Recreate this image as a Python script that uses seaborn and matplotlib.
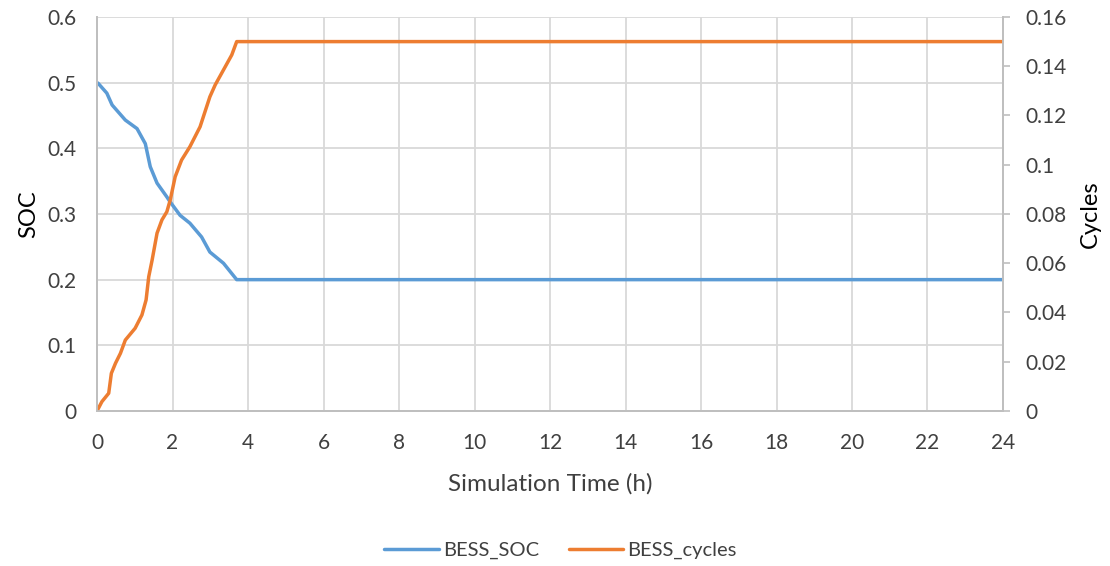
import matplotlib
matplotlib.use("Agg")
import matplotlib.pyplot as plt
import seaborn as sns
import pandas as pd

# BESS state of charge over the simulated day (hours, SOC)
soc_time = [0.0, 0.03, 0.26, 0.40, 0.75, 1.06, 1.28, 1.41, 1.59, 1.85, 1.93, 2.20, 2.46,
            2.77, 2.99, 3.35, 3.70, 24.0]
soc_value = [0.500, 0.499, 0.484, 0.466, 0.443, 0.430, 0.407, 0.372, 0.347, 0.326, 0.319,
             0.298, 0.286, 0.265, 0.242, 0.225, 0.200, 0.200]

# Accumulated BESS cycles over the simulated day
cyc_time = [0.0, 0.13, 0.31, 0.38, 0.49, 0.62, 0.75, 1.01, 1.19, 1.30, 1.37, 1.46, 1.59,
            1.72, 1.85, 1.94, 2.07, 2.24, 2.46, 2.73, 2.99, 3.13, 3.35, 3.57, 3.70, 24.0]
cyc_value = [0.0, 0.0038, 0.0072, 0.0153, 0.0194, 0.0234, 0.0288, 0.0336, 0.039, 0.0451,
             0.0545, 0.0613, 0.0722, 0.0776, 0.0809, 0.0857, 0.0951, 0.1019, 0.1073,
             0.1154, 0.1276, 0.1324, 0.1385, 0.1446, 0.150, 0.150]

x_ticks = list(range(0, 25, 2))
soc_ticks = [0, 0.1, 0.2, 0.3, 0.4, 0.5, 0.6]
soc_tick_labels = ["0", "0.1", "0.2", "0.3", "0.4", "0.5", "0.6"]
cyc_ticks = [0, 0.02, 0.04, 0.06, 0.08, 0.10, 0.12, 0.14, 0.16]
cyc_tick_labels = ["0", "0.02", "0.04", "0.06", "0.08", "0.1", "0.12", "0.14", "0.16"]

BLUE = "#5B9BD5"
ORANGE = "#ED7D31"
GRID = "#D9D9D9"
AXIS = "#BFBFBF"
TEXT = "#404040"

sns.set_style("white")
plt.rcParams["font.family"] = ["Lato", "DejaVu Sans"]

soc_df = pd.DataFrame({"time": soc_time, "soc": soc_value})
cyc_df = pd.DataFrame({"time": cyc_time, "cycles": cyc_value})

fig = plt.figure(figsize=(11.1, 5.66), dpi=100)
ax = fig.add_axes([0.0874, 0.2739, 0.8162, 0.6961])
ax2 = ax.twinx()

sns.lineplot(data=soc_df, x="time", y="soc", ax=ax, color=BLUE, linewidth=2.5,
             label="BESS_SOC", legend=False)
sns.lineplot(data=cyc_df, x="time", y="cycles", ax=ax2, color=ORANGE, linewidth=2.5,
             label="BESS_cycles", legend=False)

ax.set_xlim(0, 24)
ax.set_ylim(0, 0.6)
ax2.set_ylim(0, 0.16)
ax.set_xticks(x_ticks)
ax.set_yticks(soc_ticks)
ax.set_yticklabels(soc_tick_labels)
ax2.set_yticks(cyc_ticks)
ax2.set_yticklabels(cyc_tick_labels)

ax.grid(True, color=GRID, linewidth=1.3)
ax.set_axisbelow(True)
ax2.grid(False)

for a in (ax, ax2):
    a.spines["top"].set_visible(False)
    for side in ("left", "bottom", "right"):
        a.spines[side].set_color(AXIS)
        a.spines[side].set_linewidth(1.3)

ax.tick_params(axis="both", labelsize=15, colors=TEXT, length=0)
ax.tick_params(axis="x", pad=16)
ax.tick_params(axis="y", pad=15)
ax2.tick_params(axis="y", labelsize=15, colors=TEXT, length=5, width=1.2,
                color=AXIS, direction="out", pad=11)

ax.set_xlabel("Simulation Time (h)", fontsize=17.5, color=TEXT, labelpad=14)
ax.set_ylabel("SOC", fontsize=17, color="black", labelpad=6)
ax2.set_ylabel("Cycles", fontsize=17, color="black", labelpad=10)

h1, l1 = ax.get_legend_handles_labels()
h2, l2 = ax2.get_legend_handles_labels()
fig.legend(h1 + h2, l1 + l2, loc="center", bbox_to_anchor=(0.505, 0.028), ncol=2,
           frameon=False, fontsize=14.5, handlelength=2.7, handletextpad=0.2,
           columnspacing=1.5, labelcolor=TEXT)

fig.savefig("out.png", dpi=100)
